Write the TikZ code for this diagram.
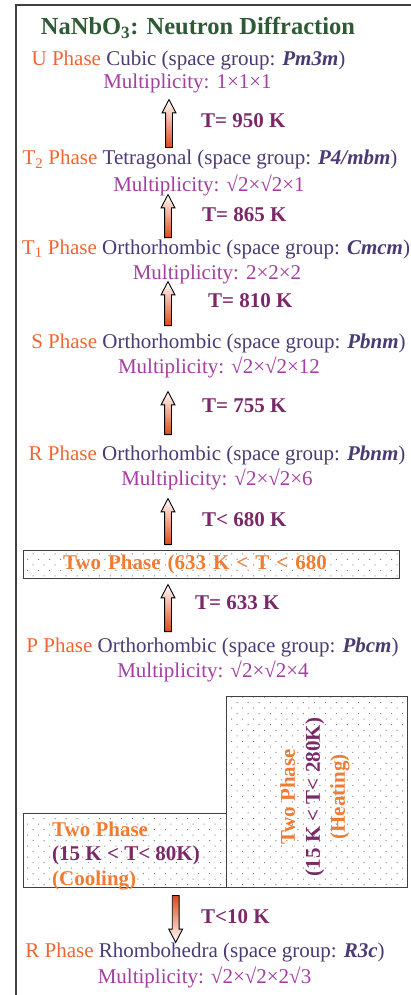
\documentclass[tikz,border=0pt]{standalone}
\usepackage{fontspec}
\setmainfont{Liberation Serif}
\usepackage{xcolor}
\usetikzlibrary{shapes.arrows,patterns.meta,positioning}
\definecolor{titlegreen}{HTML}{2E5B36}
\definecolor{phaseorange}{HTML}{EE6633}
\definecolor{sysviolet}{HTML}{4B3A73}
\definecolor{multpurple}{HTML}{A23FA0}
\definecolor{tempplum}{HTML}{7B2869}
\definecolor{boxorange}{HTML}{F07B32}
\definecolor{arrowred}{HTML}{E04818}

\newcommand{\phasename}[1]{\textcolor{phaseorange}{#1 Phase}}
\newcommand{\spgroup}[1]{(space group: \textbf{\textit{#1}})}

\begin{document}
\begin{tikzpicture}[
  x=1pt, y=-1pt,
  phase/.style={anchor=base, inner sep=0pt, text=sysviolet, font=\fontsize{21}{25}\selectfont},
  mult/.style={anchor=base, inner sep=0pt, text=multpurple, font=\fontsize{21}{25}\selectfont},
  temp/.style={anchor=base west, inner sep=0pt, text=tempplum, font=\fontsize{21}{25}\selectfont\bfseries},
  blockarrow/.style={single arrow, draw=black, line width=0.9pt, inner sep=3pt,
                     single arrow head extend=3.5pt,
                     single arrow tip angle=55, anchor=tail},
  uparrow/.style={blockarrow, shape border rotate=90, top color=white, bottom color=arrowred},
  downarrow/.style={blockarrow, shape border rotate=270, top color=arrowred, bottom color=white},
  dotbox/.style={draw=black!75, line width=1pt, inner sep=0pt,
                 pattern={Dots[distance=7.8pt, angle=45, radius=0.7pt]}, pattern color=black!50}
]
\useasboundingbox (0,0) rectangle (411,995);

% Frame
\draw[line width=1.2pt, black!75] (411,5) -- (16,5) -- (16,995);

% Title
\node[anchor=base, inner sep=0pt, text=titlegreen, font=\fontsize{24.5}{29}\selectfont\bfseries]
  (title) at (198,35) {NaNbO\textsubscript{3}: Neutron Diffraction};

% U Phase
\node[phase] (uphase) at (188.5,66) {\phasename{U} Cubic \spgroup{Pm3m}};
\node[mult] (umult) at (187.5,89) {Multiplicity: 1×1×1};

\node[uparrow, minimum height=48pt] (arrow1) at (169,148) {};
\node[temp] (t950) at (201,128) {T= 950 K};

% T2 Phase
\node[phase] (ttwophase) at (210,165) {\phasename{T\textsubscript{2}} Tetragonal \spgroup{P4/mbm}};
\node[mult] (ttwomult) at (209,192) {Multiplicity: √2×√2×1};

\node[uparrow, minimum height=43pt] (arrow2) at (168,238) {};
\node[temp] (t865) at (202,221) {T= 865 K};

% T1 Phase
\node[phase] (tonephase) at (216,254) {\phasename{T\textsubscript{1}} Orthorhombic \spgroup{Cmcm}};
\node[mult] (tonemult) at (217,279) {Multiplicity: 2×2×2};

\node[uparrow, minimum height=44pt] (arrow3) at (168,326) {};
\node[temp] (t810) at (208,307) {T= 810 K};

% S Phase
\node[phase] (sphase) at (218.5,348) {\phasename{S} Orthorhombic \spgroup{Pbnm}};
\node[mult] (smult) at (219,373) {Multiplicity: √2×√2×12};

\node[uparrow, minimum height=43pt] (arrow4) at (168,435) {};
\node[temp] (t755) at (202,412) {T= 755 K};

% R Phase (orthorhombic)
\node[phase] (rphase) at (217,460) {\phasename{R} Orthorhombic \spgroup{Pbnm}};
\node[mult] (rmult) at (217,485) {Multiplicity: √2×√2×6};

\node[uparrow, minimum height=46pt] (arrow5) at (168,545) {};
\node[temp] (t680) at (202,526) {T< 680 K};

% Two phase band
\node[dotbox, inner xsep=40pt, text width=296pt, align=left, minimum height=28pt, text=boxorange,
      font=\fontsize{21}{25}\selectfont\bfseries] (band) at (211,564)
  {\rule[-5pt]{0pt}{20pt}Two Phase (633 K < T < 680};

\node[uparrow, minimum height=47pt] (arrow6) at (168,632) {};
\node[temp] (t633) at (195,609) {T= 633 K};

% P Phase
\node[phase] (pphase) at (212.5,652) {\phasename{P} Orthorhombic \spgroup{Pbcm}};
\node[mult] (pmult) at (213,677) {Multiplicity: √2×√2×4};

% Two phase boxes (heating / cooling)
\node[dotbox, minimum width=181pt, minimum height=191pt] (heating) at (316.5,791.5) {};
\node[dotbox, minimum width=203pt, minimum height=74pt] (cooling) at (124.5,850) {};

\node[rotate=90, align=center, inner sep=0pt, font=\fontsize{21}{25}\selectfont\bfseries]
  (heattxt) at (315,797)
  {\textcolor{boxorange}{Two Phase}\\ \textcolor{tempplum}{(15 K < T< 280K)}\\ \textcolor{boxorange}{(Heating)}};
\node[anchor=base west, align=left, inner sep=0pt, font=\fontsize{21}{24.5}\selectfont\bfseries]
  (cooltxt) at (52,885)
  {\textcolor{boxorange}{Two Phase}\\ \textcolor{tempplum}{(15 K < T< 80K)}\\ \textcolor{boxorange}{(Cooling)}};

\node[downarrow, minimum height=47pt] (arrow7) at (175.7,895) {};
\node[temp] (t10) at (201,923) {T<10 K};

% R Phase (rhombohedral)
\node[phase] (rhphase) at (205,957) {\phasename{R} Rhombohedra \spgroup{R3c}};
\node[mult] (rhmult) at (204.5,983) {Multiplicity: √2×√2×2√3};

\end{tikzpicture}
\end{document}
